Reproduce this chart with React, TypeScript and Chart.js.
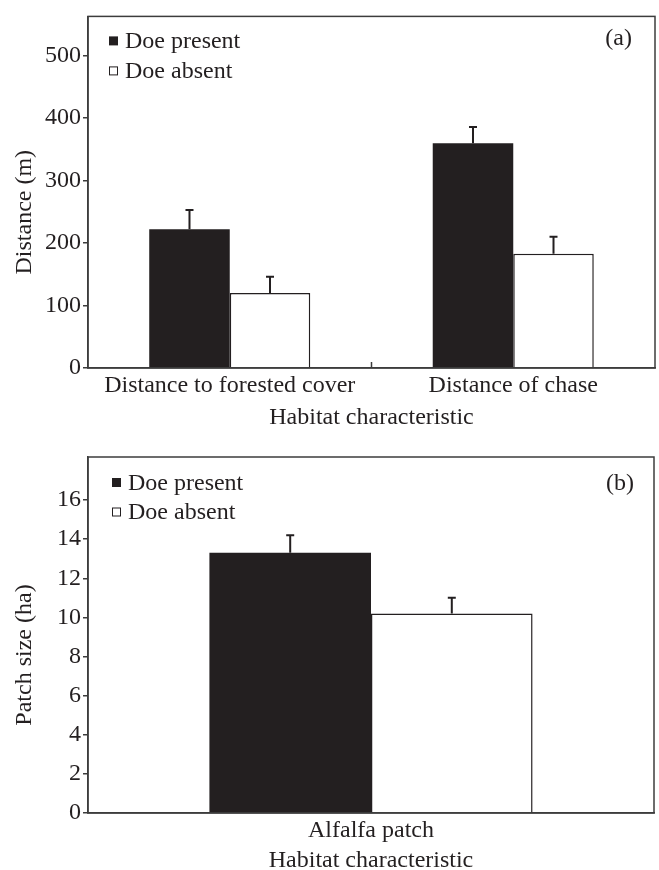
import React, { useEffect, useRef } from 'react';
import { Chart, registerables } from 'chart.js';

Chart.register(...registerables);

// ---------- data ----------
const seriesNames = ['Doe present', 'Doe absent'];

const topCategories = ['Distance to forested cover', 'Distance of chase'];
const topPresent = [222, 360];
const topPresentSE = [31, 26];
const topAbsent = [120, 183];
const topAbsentSE = [26, 27];
const topYTicks = [0, 100, 200, 300, 400, 500];
const topYMax = 563;
const topYTitle = 'Distance (m)';

const bottomCategories = ['Alfalfa patch'];
const bottomPresent = [13.3];
const bottomPresentSE = [0.9];
const bottomAbsent = [10.2];
const bottomAbsentSE = [0.8];
const bottomYTicks = [0, 2, 4, 6, 8, 10, 12, 14, 16];
const bottomYMax = 18.2;
const bottomYTitle = 'Patch size (ha)';

const xTitle = 'Habitat characteristic';

// ---------- styles ----------
const FONT = "'Liberation Serif', 'Times New Roman', serif";
const FS = 24;
const INK = '#231f20';
const FRAME = '#3c3c3c';

const errorBarPlugin = {
  id: 'errorBars',
  afterDatasetsDraw(chart: any) {
    const ctx = chart.ctx;
    const yScale = chart.scales.y;
    ctx.save();
    ctx.strokeStyle = INK;
    ctx.lineWidth = 2;
    chart.data.datasets.forEach((ds: any, di: number) => {
      const meta = chart.getDatasetMeta(di);
      meta.data.forEach((bar: any, i: number) => {
        const v = ds.data[i];
        const se = ds.se[i];
        const x = bar.x;
        const y0 = yScale.getPixelForValue(v);
        const y1 = yScale.getPixelForValue(v + se);
        ctx.beginPath();
        ctx.moveTo(x, y0);
        ctx.lineTo(x, y1);
        ctx.moveTo(x - 4, y1);
        ctx.lineTo(x + 4, y1);
        ctx.stroke();
      });
    });
    ctx.restore();
  },
};

const framePlugin = {
  id: 'frame',
  afterDraw(chart: any, _args: any, opts: any) {
    const { ctx, chartArea: a } = chart;
    ctx.save();
    ctx.strokeStyle = FRAME;
    ctx.lineWidth = 1.5;
    ctx.strokeRect(a.left, a.top, a.right - a.left, a.bottom - a.top);

    // category boundary tick (top panel)
    if (opts.midTick) {
      const xs = chart.scales.x;
      const mx = (xs.getPixelForValue(0) + xs.getPixelForValue(1)) / 2;
      ctx.beginPath();
      ctx.moveTo(mx, a.bottom);
      ctx.lineTo(mx, a.bottom - 6);
      ctx.stroke();
    }

    ctx.font = `${FS}px ${FONT}`;
    ctx.fillStyle = INK;

    // y-axis title (sits a little below the plot centre, as in the original)
    ctx.save();
    ctx.translate(opts.yTitleX, (a.top + a.bottom) / 2 + opts.yTitleShift);
    ctx.rotate(-Math.PI / 2);
    ctx.textAlign = 'center';
    ctx.textBaseline = 'middle';
    ctx.fillText(opts.yTitle, 0, 0);
    ctx.restore();

    // legend
    ctx.textBaseline = 'alphabetic';
    ctx.textAlign = 'left';
    const rows = [a.top + opts.legendY0, a.top + opts.legendY1];
    chart.data.datasets.forEach((ds: any, i: number) => {
      const base = rows[i];
      const sx = a.left + opts.legendX;
      const sy = base - 11.5;
      if (i === 0) {
        ctx.fillStyle = INK;
        ctx.fillRect(sx, sy, 9, 9);
      } else {
        ctx.fillStyle = '#fff';
        ctx.fillRect(sx, sy, 9, 9);
        ctx.strokeStyle = INK;
        ctx.lineWidth = 1;
        ctx.strokeRect(sx + 0.5, sy + 0.5, 8, 8);
      }
      ctx.fillStyle = INK;
      ctx.fillText(ds.label, sx + 16, base);
    });

    // panel label
    ctx.textAlign = 'right';
    ctx.fillText(opts.panel, a.right - opts.panelDX, a.top + opts.panelDY);
    ctx.restore();
  },
};

function yAxis(max: number, ticks: number[]) {
  return {
    min: 0,
    max,
    afterBuildTicks: (s: any) => {
      s.ticks = ticks.map((v) => ({ value: v }));
    },
    afterFit: (s: any) => {
      s.width = 88;
    },
    grid: {
      drawOnChartArea: false,
      drawTicks: true,
      tickLength: 5,
      color: FRAME,
      lineWidth: 1.5,
    },
    border: { display: true, color: FRAME, width: 1.5 },
    ticks: {
      padding: 2,
      color: INK,
      font: { family: FONT, size: FS },
    },
    title: { display: false },
  };
}

function xAxis(height: number, titlePadBottom: number) {
  return {
    afterFit: (s: any) => {
      s.height = height;
    },
    grid: { display: false, drawTicks: false },
    border: { display: true, color: FRAME, width: 1.5 },
    ticks: { padding: 3, color: INK, font: { family: FONT, size: FS }, maxRotation: 0 },
    title: {
      display: true,
      text: xTitle,
      color: INK,
      font: { family: FONT, size: FS },
      padding: { top: 0, bottom: titlePadBottom },
    },
  };
}

function datasets(present: number[], presentSE: number[], absent: number[], absentSE: number[]) {
  return [
    {
      label: seriesNames[0],
      data: present,
      se: presentSE,
      backgroundColor: INK,
      borderColor: INK,
      borderWidth: 0,
    } as any,
    {
      label: seriesNames[1],
      data: absent,
      se: absentSE,
      backgroundColor: '#ffffff',
      borderColor: INK,
      borderWidth: 1.5,
    } as any,
  ];
}

function TopChart() {
  const ref = useRef<HTMLCanvasElement>(null);
  useEffect(() => {
    const chart = new Chart(ref.current!, {
      type: 'bar',
      data: {
        labels: topCategories,
        datasets: datasets(topPresent, topPresentSE, topAbsent, topAbsentSE),
      },
      options: {
        animation: false,
        responsive: false,
        events: [],
        layout: { padding: { top: 12, right: 4, left: 0, bottom: 0 } },
        datasets: { bar: { barPercentage: 1, categoryPercentage: 0.568 } },
        plugins: {
          legend: { display: false },
          tooltip: { enabled: false },
          frame: {
            midTick: true,
            legendX: 21,
            legendY0: 31.5,
            legendY1: 61.5,
            panel: '(a)',
            panelDX: 23,
            panelDY: 29,
            yTitle: topYTitle,
            yTitleX: 25,
            yTitleShift: 20,
          },
        } as any,
        scales: {
          x: xAxis(67, 3) as any,
          y: yAxis(topYMax, topYTicks) as any,
        },
      },
      plugins: [errorBarPlugin, framePlugin],
    });
    return () => chart.destroy();
  }, []);
  return <canvas ref={ref} width={659} height={435} style={{ position: 'absolute', left: 0, top: 0 }} />;
}

function BottomChart() {
  const ref = useRef<HTMLCanvasElement>(null);
  useEffect(() => {
    const chart = new Chart(ref.current!, {
      type: 'bar',
      data: {
        labels: bottomCategories,
        datasets: datasets(bottomPresent, bottomPresentSE, bottomAbsent, bottomAbsentSE),
      },
      options: {
        animation: false,
        responsive: false,
        events: [],
        layout: { padding: { top: 22, right: 5, left: 0, bottom: 0 } },
        datasets: { bar: { barPercentage: 1, categoryPercentage: 0.571 } },
        plugins: {
          legend: { display: false },
          tooltip: { enabled: false },
          frame: {
            midTick: false,
            legendX: 24,
            legendY0: 32.5,
            legendY1: 62,
            panel: '(b)',
            panelDX: 20,
            panelDY: 33,
            yTitle: bottomYTitle,
            yTitleX: 25,
            yTitleShift: 20,
          },
        } as any,
        scales: {
          x: xAxis(57, -5) as any,
          y: yAxis(bottomYMax, bottomYTicks) as any,
        },
      },
      plugins: [errorBarPlugin, framePlugin],
    });
    return () => chart.destroy();
  }, []);
  return <canvas ref={ref} width={659} height={435} style={{ position: 'absolute', left: 0, top: 435 }} />;
}

export default function App() {
  return (
    <div style={{ position: 'absolute', left: 0, top: 0, width: 659, height: 870, overflow: 'hidden', background: '#fff' }}>
      <TopChart />
      <BottomChart />
    </div>
  );
}
